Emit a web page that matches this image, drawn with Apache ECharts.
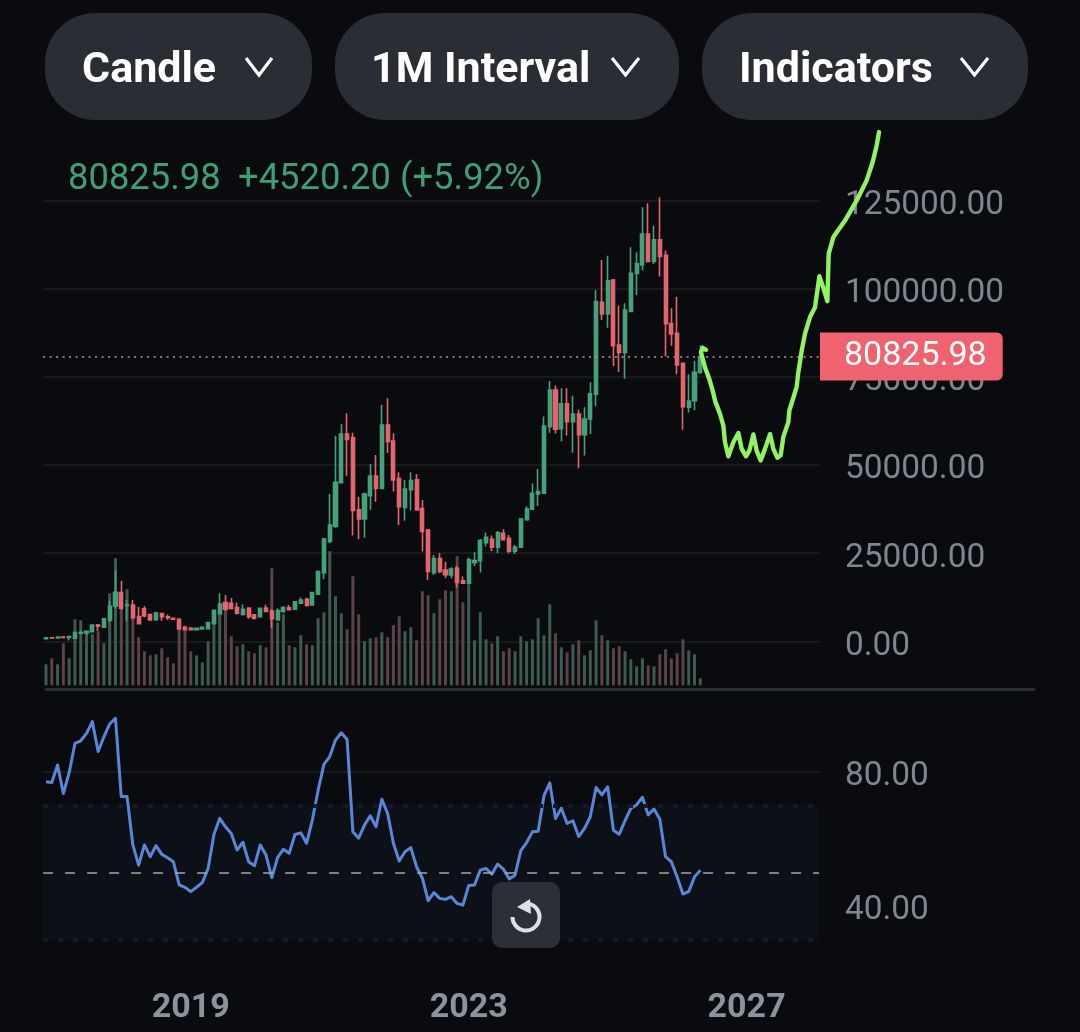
<!DOCTYPE html>
<html><head><meta charset="utf-8">
<style>html,body{margin:0;padding:0;background:#0a0b0e}#c{width:1080px;height:1032px}</style>
<script src="https://cdn.jsdelivr.net/npm/echarts@6/dist/echarts.min.js"></script>
</head><body><div id="c"></div>
<script>
// [open, close, low, high], monthly from 2016-12
const candles = [
[760,960,740,980],[1000,960,800,1150],[970,1190,900,1300],[1190,1080,890,1350],[1080,1350,200,1500],
[850,2460,700,2800],[2300,2480,2000,3000],[2450,2870,1800,2950],[2750,4600,2600,4700],[4600,4300,2950,4900],
[4000,6400,3900,6500],[6000,9900,5500,11500],[10000,13900,9400,20000],[13800,9400,8900,17100],[10200,10300,5800,11700],
[10300,6700,6300,11700],[7000,5000,4900,9700],[9200,7200,6800,10000],[7570,6050,5800,7700],[6150,8040,5800,8400],
[7850,7000,5860,7950],[6950,6700,6050,7570],[6500,6300,6200,6600],[6250,3500,3400,6530],[3950,3300,3200,4400],
[3700,3300,3200,4100],[3300,3700,3200,3800],[3500,4000,3400,4100],[3600,5300,3500,5400],[5000,8800,4900,9000],
[7800,10600,7500,13600],[11000,9100,8700,13150],[10800,9300,9000,12300],[9600,7950,7600,11000],[7600,9100,7300,10500],
[9400,7000,6400,9650],[7500,6450,6250,7700],[7000,9350,6900,9500],[9400,8500,8400,10400],[8550,6400,3850,9100],
[6050,8700,6000,9400],[8500,9600,8100,10000],[9500,9000,8900,10300],[9100,11200,8900,11400],[10800,11700,10500,12400],
[11900,10150,9900,12350],[10350,13800,10100,14000],[13400,19800,13200,20100],[19500,29000,17600,29300],[28300,33000,27800,41800],
[32600,45100,32200,58300],[45000,58800,45000,61600],[58800,57300,47000,64700],[57800,37100,30000,59200],[37300,34700,29000,41000],
[34700,41800,29400,42200],[41300,46900,37300,50300],[46900,43400,39600,52900],[43400,61400,43400,67100],[61400,56700,53400,69000],
[56800,45800,42500,59000],[46200,38200,33000,48000],[38000,43200,34200,45800],[43000,45600,37100,48000],[45800,37300,37200,47500],
[37700,31200,25500,40100],[31600,19800,17400,31900],[19500,23500,18800,24500],[23500,19800,19300,25000],[20200,18900,17900,22600],
[18800,20500,17900,21000],[20700,16700,15300,21400],[17200,16500,16300,18400],[16500,23100,16300,23750],[22400,22900,21400,25250],
[22900,28600,19500,29000],[28000,29500,26900,30900],[28950,26700,25600,30000],[26700,30800,25000,31300],[30650,28800,28700,31800],
[29200,25600,25000,30200],[25600,26700,24800,27350],[26700,34700,26600,35000],[34500,37500,34200,38300],[37500,42000,37300,44800],
[41800,42500,38400,48900],[42000,61100,41800,63800],[60900,71300,59200,73900],[71300,60200,59000,72600],[60300,67400,56700,71800],
[67400,62300,58400,71800],[62300,64500,53500,69700],[64500,58600,49100,65700],[58600,63100,52700,66400],[63100,70200,58800,73500],
[70100,96400,66800,99700],[96200,92900,91200,108200],[92900,102300,89000,109400],[102500,83900,78100,102800],[84100,82000,76400,95200],
[82000,94000,74500,95900],[93600,104400,93400,111800],[104400,107100,98300,110400],[106800,115600,105200,123200],[115600,107800,107500,124300],
[107800,113900,107100,117900],[113900,109200,103500,126000],[109500,90100,80800,110900],[90200,87200,83800,94500],[87400,78400,75800,97800],
[78900,66600,60000,79100],[66400,68200,64900,75800],[68300,76300,65600,79600],[76305.78,80825.98,75900,84000]
];
const volumes = [21,27,21,42,27,66,65,54,51,54,42,92,127,76,96,67,48,34,30,31,37,28,22,56,56,34,30,23,44,61,74,76,49,39,41,34,32,40,38,117,63,71,40,38,50,41,
40,67,73,134,89,72,56,109,71,44,47,48,53,48,60,69,54,58,45,94,90,72,86,95,94,129,83,101,45,73,46,42,49,34,37,34,49,44,46,67,50,81,
52,38,33,41,45,30,35,65,50,45,37,39,34,26,19,27,20,19,31,36,27,32,46,35,31,7];
const rsi = [77,76.8,82,73.5,79.7,88.4,89.2,91.4,94.9,86,90.4,94.2,95.9,72.6,72.6,58.2,52.2,58.2,54.7,58,55.4,54.4,53.2,46.3,45.6,44.3,45.6,47,51.2,61.3,66.1,63.6,61.6,56.7,59,53.2,52,58.2,55.2,48.5,54.5,56.9,55.7,61.3,61.8,58.7,65.6,74.5,82.2,84.5,89.4,91.6,89.6,62.1,60.2,64.1,66.9,63.6,71.8,67.6,58.7,53.4,56.2,57.4,51.7,48.3,41.6,44,42.3,42,42.8,40.8,40.3,46.1,46.3,50.7,51.2,49.5,52.5,51,48.1,49.2,56.5,58.9,62.1,62.3,72.8,76.7,66.1,69.1,64.6,65.4,60.7,63.1,66.6,75.3,73.1,75.5,62.6,61.4,65.4,69.1,70.1,72.4,67.1,68.9,65.9,54.7,53.2,48.7,43.6,44.3,48.7,50.7];
// hand-drawn green projection: month position and price
const sketchMonth = [113.99,113.42,113.13,113.82,114.57,115.15,115.55,116.41,116.99,117.27,117.85,118.71,119.58,120.15,120.90,121.48,122.17,122.74,123.43,124.18,125.05,125.62,126.31,126.89,127.35,128.21,128.39,129.65,129.94,130.52,131.09,131.96,132.82,133.57,134.26,134.95,135.29,135.18,135.99,138.0,140.02,141.74,142.78,143.47,143.87];
const sketchPrice = [82700,83300,82000,77700,74400,71100,68300,64500,61200,56500,52500,56500,59100,54600,52500,54100,58700,54100,51300,54600,58800,54600,52100,52800,58000,62200,65500,72200,76400,82500,87300,92000,94800,103600,100300,96500,96500,110000,114700,119400,125100,130800,136000,140700,144500];
const priceTicks = [0,25000,50000,75000,100000,125000];
const rsiTicks = [40,80];
const yearLabels = ['2019','2023','2027'];
const lastPrice = 80825.98;
const changeText = '+4520.20 (+5.92%)';
const pills = [['Candle',45,312],['1M Interval',335,679],['Indicators',702,1028]];

const GREEN='#45a17c', RED='#e3656f', GRID='#17191d', LABEL='#80868f', BG='#0a0b0e';
const months=[]; for(let i=0;i<134;i++){const m=11+i; months.push((2016+Math.floor(m/12))+'-'+String(m%12+1).padStart(2,'0'));}
const L=43.1, W=775.9, PT=112.7, PH=572.65, RT=704.5, RH=268.8;
const chart=echarts.init(document.getElementById('c'),null,{renderer:'canvas'});
const FONT='Roboto';
const g=[];
const chevX=[[246,272],[612,639],[961,988]];
pills.forEach((p,i)=>{
 g.push({type:'rect',z:50,shape:{x:p[1],y:13,width:p[2]-p[1],height:107,r:50},style:{fill:'#2a2d34'}});
 const tx=[82,371,739][i];
 g.push({type:'text',z:51,x:tx,y:71,style:{text:p[0],fill:'#fff',font:'700 43px '+FONT,textAlign:'left',textVerticalAlign:'middle'}});
 const c=chevX[i];
 g.push({type:'polyline',z:51,shape:{points:[[c[0],58],[(c[0]+c[1])/2,75],[c[1],58]]},style:{stroke:'#fff',lineWidth:3.2,fill:null}});
});
g.push({type:'text',z:20,x:68,y:180,style:{text:String(lastPrice),fill:'#3f9f76',font:'400 36.4px '+FONT,textVerticalAlign:'middle'}});
g.push({type:'text',z:20,x:238,y:180,style:{text:changeText,fill:'#3f9f76',font:'400 36.4px '+FONT,textVerticalAlign:'middle'}});
g.push({type:'rect',z:20,shape:{x:45,y:688,width:990,height:3},style:{fill:'#2a2e36'}});
g.push({type:'rect',z:60,shape:{x:492,y:882,width:68,height:66,r:10},style:{fill:'#2d2f37'}});
g.push({type:'arc',z:61,shape:{cx:526,cy:917,r:13.5,startAngle:-Math.PI*0.42,endAngle:Math.PI,clockwise:true},style:{stroke:'#dcdfe6',lineWidth:4,fill:null}});
g.push({type:'polygon',z:61,shape:{points:[[517,907],[530,899],[531,914]]},style:{fill:'#dcdfe6'}});

const tickRich={a:{color:LABEL,fontFamily:FONT,fontSize:33.4,padding:[10,0,0,0],lineHeight:40}};
chart.setOption({
 animation:false,backgroundColor:BG,
 graphic:g,
 grid:[{left:L,width:W,top:PT,height:PH},{left:L,width:W,top:RT,height:RH},{left:L,width:868.5,top:PT,height:PH}],
 xAxis:[
  {type:'category',gridIndex:0,data:months,axisLine:{show:false},axisTick:{show:false},axisLabel:{show:false},splitLine:{show:false}},
  {type:'category',gridIndex:1,data:months,axisLine:{show:false},axisTick:{show:false},splitLine:{show:false},
   axisLabel:{color:'#8d939c',fontFamily:FONT,fontWeight:'bold',fontSize:34,margin:18,hideOverlap:false,
    interval:(i,v)=>v.endsWith('-01')&&yearLabels.includes(v.slice(0,4)),formatter:v=>v.slice(0,4)}},
  {type:'value',gridIndex:2,min:-0.5,max:149.5,show:false}
 ],
 yAxis:[
  {type:'value',gridIndex:0,position:'right',min:-12500,max:150000,axisLine:{show:false},
   axisTick:{show:false,customValues:priceTicks},
   axisLabel:{customValues:priceTicks,margin:26,rich:tickRich,formatter:v=>'{a|'+v.toFixed(2)+'}'},
   splitLine:{show:true,lineStyle:{color:GRID,width:2}}},
  {type:'value',gridIndex:0,min:0,max:572,show:false,splitLine:{show:false}},
  {type:'value',gridIndex:1,position:'right',min:20,max:100,axisLine:{show:false},
   axisTick:{show:false,customValues:rsiTicks},
   axisLabel:{customValues:rsiTicks,margin:26,rich:tickRich,formatter:v=>'{a|'+v.toFixed(2)+'}'},
   splitLine:{show:true,lineStyle:{color:GRID,width:2}}},
  {type:'value',gridIndex:2,min:-12500,max:150000,show:false,splitLine:{show:false}}
 ],
 series:[
  {type:'bar',name:'Volume',xAxisIndex:0,yAxisIndex:1,barWidth:3,z:2,silent:true,
   data:volumes.map((v,i)=>({value:v,itemStyle:{color:candles[i][1]>=candles[i][0]?'#3e5b51':'#5a4448'}}))},
  {type:'candlestick',name:'Price',xAxisIndex:0,yAxisIndex:0,barWidth:3.6,z:3,
   data:candles,
   itemStyle:{color:GREEN,color0:RED,borderColor:GREEN,borderColor0:RED,borderWidth:1.6},
   markLine:{silent:true,symbol:'none',z:8,animation:false,
    data:[{yAxis:lastPrice}],
    lineStyle:{color:'#d98c86',type:[2,4.5],width:1.5},
    label:{show:true,position:'end',distance:1,formatter:String(lastPrice),color:'#fff',fontFamily:FONT,fontSize:34,
     backgroundColor:'#f0626f',borderRadius:[0,6,6,0],padding:[10,16,4,24],lineHeight:34}}},
  {type:'line',name:'RSI',xAxisIndex:1,yAxisIndex:2,data:rsi,showSymbol:false,z:4,
   lineStyle:{color:'#5b86d8',width:3,join:'round'},
   markArea:{silent:true,itemStyle:{color:'#0c1017'},data:[[{yAxis:30},{yAxis:70}]]},
   markLine:{silent:true,symbol:'none',label:{show:false},animation:false,data:[
    {yAxis:50,lineStyle:{color:'#a2a5a9',type:[10,12],width:1.6}},
    {yAxis:70,lineStyle:{color:'#151a2b',type:[5,10],width:4}},
    {yAxis:30,lineStyle:{color:'#151a2b',type:[5,10],width:4}}]}},
  {type:'line',name:'Sketch',xAxisIndex:2,yAxisIndex:3,z:10,showSymbol:false,silent:true,clip:false,
   data:sketchMonth.map((x,i)=>[x,sketchPrice[i]]),
   lineStyle:{color:'#93f263',width:4.4,cap:'round',join:'round'}}
 ]
});
</script></body></html>
